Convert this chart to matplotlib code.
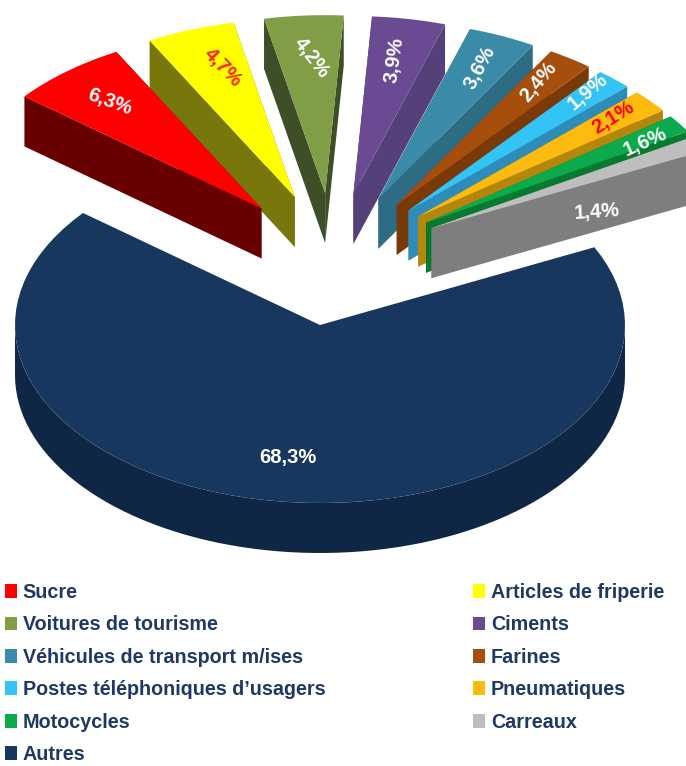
import numpy as np
import matplotlib
matplotlib.use("Agg")
import matplotlib.pyplot as plt
from matplotlib.patches import Polygon, Patch

plt.rcParams["font.family"] = ["Liberation Sans", "DejaVu Sans"]

# data
names = ["Sucre", "Articles de friperie", "Voitures de tourisme", "Ciments",
         "Véhicules de transport m/ises", "Farines", "Postes téléphoniques d’usagers",
         "Pneumatiques", "Motocycles", "Carreaux", "Autres"]
values = [6.3, 4.7, 4.2, 3.9, 3.6, 2.4, 1.9, 2.1, 1.6, 1.4, 68.3]
labels = ["6,3%", "4,7%", "4,2%", "3,9%", "3,6%", "2,4%", "1,9%", "2,1%", "1,6%", "1,4%", "68,3%"]

# styles
top_colors = ["#FF0000", "#FFFF00", "#7F9E45", "#6B4A94", "#3A8BA8", "#A64E0C",
              "#33C3F5", "#FDBB10", "#0BAA4C", "#BEBEBE", "#17375E"]
wall_colors = ["#680000", "#77770C", "#3E4F28", "#55407A", "#2E6C85", "#7A3A08",
               "#2E8DB8", "#B5860C", "#077A30", "#7E7E7E", "#0F2745"]
label_colors = ["white", "#FF2000", "white", "white", "white", "white",
                "white", "#FF0000", "white", "white", "white"]
label_xy = [(110, 102), (223, 68), (312, 58), (394, 60), (480, 68), (538, 82),
            (588, 92), (613, 118), (645, 142), (597, 212), (288, 457)]
label_rot = [-20, -46, -52, 82, 62, 50, 40, 32, 24, 4, 0]
draw_order = [2, 1, 0, 3, 4, 5, 6, 7, 8, 9]

# pie geometry in pixels
cx, cy = 320, 325
a, b = 305, 178
depth = 50
gx, gy = 333, 260
ex, ey = 112, 67
start = 141

fig = plt.figure(figsize=(6.86, 7.66), dpi=100)
ax = fig.add_axes([0, 0, 1, 1])
ax.set_xlim(0, 686)
ax.set_ylim(766, 0)
ax.axis("off")


def rim(x0, y0, t1, t2):
    t = np.radians(np.linspace(t1, t2, 80))
    return np.column_stack([x0 + a * np.cos(t), y0 - b * np.sin(t)])


sweeps = np.array(values) / sum(values) * 360
ends = start - np.cumsum(sweeps)
begins = ends + sweeps

# big slice
i = 10
ax.add_patch(Polygon(np.vstack([rim(cx, cy, 180, 360), rim(cx, cy + depth, 360, 180)]),
                     fc=wall_colors[i], ec="none"))
ax.add_patch(Polygon(np.vstack([[[cx, cy]], rim(cx, cy, start, start + sweeps[i])]),
                     fc=top_colors[i], ec="none"))

# small slices, from the middle outwards
for i in draw_order:
    mid = np.radians((begins[i] + ends[i]) / 2)
    x0 = gx + ex * np.cos(mid)
    y0 = gy - ey * np.sin(mid)
    for t in (begins[i], ends[i]):
        p = rim(x0, y0, t, t)[0]
        ax.add_patch(Polygon([(x0, y0), p, (p[0], p[1] + depth), (x0, y0 + depth)],
                             fc=wall_colors[i], ec="none"))
    ax.add_patch(Polygon(np.vstack([[[x0, y0]], rim(x0, y0, begins[i], ends[i])]),
                         fc=top_colors[i], ec="none"))

for lab, xy, rot, col in zip(labels, label_xy, label_rot, label_colors):
    ax.text(xy[0], xy[1], lab, color=col, fontsize=14.5, fontweight="bold",
            rotation=rot, ha="center", va="center", rotation_mode="anchor")

legend_order = [0, 2, 4, 6, 8, 10, 1, 3, 5, 7, 9]
handles = [Patch(fc=top_colors[i], ec="none", label=names[i]) for i in legend_order]
ax.legend(handles=handles, ncols=2, loc="upper left", bbox_to_anchor=(5, 583),
          bbox_transform=ax.transData, frameon=False, prop={"weight": "bold", "size": 14.2},
          labelcolor="#1F3864", handlelength=0.6, handleheight=0.7, handletextpad=0.3,
          labelspacing=0.68, columnspacing=7.5, borderpad=0, borderaxespad=0)

fig.savefig("out.png", dpi=100)
